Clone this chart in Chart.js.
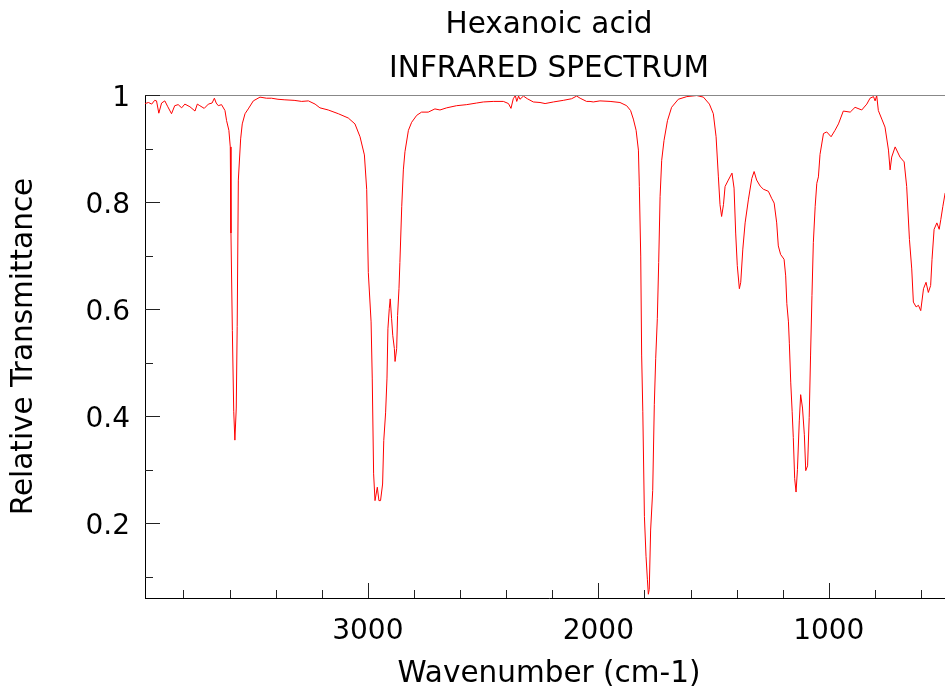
<!DOCTYPE html>
<html>
<head>
<meta charset="utf-8">
<script src="https://cdn.jsdelivr.net/npm/chart.js@4"></script>
<style>
  html, body { margin: 0; padding: 0; background: #fff; }
  #wrap { width: 945px; height: 689px; overflow: hidden; position: relative; }
  canvas { display: block; }
</style>
</head>
<body>
<div id="wrap"><canvas id="c" width="953" height="689" style="width:953px;height:689px"></canvas></div>
<script>
const chartTitle = ["Hexanoic acid", "INFRARED SPECTRUM"];
const xAxisTitle = "Wavenumber (cm-1)";
const yAxisTitle = "Relative Transmittance";

const xTickLabels = [3000, 2000, 1000];
const xMinorTicks = [3800, 3600, 3400, 3200, 2800, 2600, 2400, 2200, 1800, 1600, 1400, 1200, 800, 600];
const yTickLabels = [0.2, 0.4, 0.6, 0.8, 1];
const yMinorTicks = [0.1, 0.3, 0.5, 0.7, 0.9];

const wavenumbers = [
  3967, 3952, 3938, 3925, 3917, 3907, 3895, 3881, 3868, 3852, 3838, 3823, 3808, 3794, 3772, 3750, 3740, 3729, 3710, 3692,
  3676, 3666, 3658, 3649, 3635, 3620, 3613, 3603, 3597, 3594, 3588, 3582, 3577, 3571, 3567, 3562, 3552, 3545, 3533, 3519,
  3497, 3468, 3440, 3418, 3390, 3360, 3320, 3287, 3258, 3229, 3208, 3172, 3128, 3085, 3056, 3034, 3015, 3005, 2998, 2986,
  2981, 2975, 2969, 2959, 2952, 2945, 2936, 2931, 2923, 2917, 2913, 2907, 2903, 2897, 2892, 2885, 2882, 2875, 2871, 2865,
  2861, 2853, 2846, 2839, 2824, 2810, 2788, 2767, 2738, 2709, 2687, 2658, 2615, 2571, 2528, 2499, 2456, 2412, 2390, 2379,
  2369, 2360, 2354, 2346, 2340, 2325, 2308, 2282, 2253, 2231, 2195, 2152, 2116, 2094, 2079, 2051, 2036, 2022, 1993, 1949,
  1906, 1877, 1860, 1848, 1836, 1826, 1822, 1816, 1812, 1807, 1800, 1793, 1787, 1783, 1779, 1773, 1764, 1757, 1751, 1744,
  1738, 1732, 1725, 1715, 1700, 1682, 1653, 1616, 1573, 1544, 1518, 1501, 1489, 1479, 1472, 1465, 1457, 1450, 1436, 1420,
  1411, 1404, 1397, 1388, 1382, 1373, 1363, 1349, 1334, 1324, 1313, 1298, 1284, 1262, 1248, 1237, 1226, 1219, 1209, 1194,
  1187, 1182, 1175, 1171, 1165, 1159, 1154, 1148, 1142, 1136, 1128, 1122, 1114, 1106, 1100, 1092, 1085, 1079, 1073, 1067,
  1059, 1052, 1045, 1038, 1023, 1009, 990, 973, 958, 937, 907, 886, 857, 835, 821, 806, 799, 792, 785, 770,
  756, 741, 734, 727, 712, 691, 673, 662, 650, 640, 633, 621, 611, 601, 589, 578, 568, 558, 552, 543,
  531, 521, 514, 505, 495
];
const transmittance = [
  0.984, 0.986, 0.983, 0.990, 0.989, 0.966, 0.985, 0.989, 0.978, 0.965, 0.980, 0.982, 0.976, 0.983, 0.978, 0.970, 0.983, 0.980, 0.975, 0.983,
  0.985, 0.994, 0.985, 0.980, 0.982, 0.971, 0.952, 0.934, 0.903, 0.742, 0.560, 0.409, 0.355, 0.415, 0.567, 0.841, 0.918, 0.946, 0.965, 0.974,
  0.989, 0.996, 0.994, 0.994, 0.992, 0.991, 0.990, 0.988, 0.989, 0.983, 0.976, 0.972, 0.965, 0.957, 0.946, 0.922, 0.888, 0.823, 0.668, 0.576,
  0.471, 0.292, 0.242, 0.267, 0.242, 0.242, 0.273, 0.354, 0.406, 0.471, 0.563, 0.601, 0.619, 0.582, 0.551, 0.526, 0.502, 0.526, 0.588, 0.638,
  0.687, 0.792, 0.860, 0.894, 0.934, 0.949, 0.962, 0.968, 0.968, 0.974, 0.972, 0.976, 0.980, 0.982, 0.985, 0.987, 0.988, 0.988, 0.984, 0.975,
  0.993, 0.999, 0.988, 0.998, 0.992, 0.998, 0.993, 0.987, 0.986, 0.984, 0.987, 0.990, 0.993, 0.998, 0.994, 0.988, 0.988, 0.987, 0.989, 0.988,
  0.986, 0.980, 0.971, 0.955, 0.934, 0.897, 0.829, 0.699, 0.514, 0.409, 0.212, 0.138, 0.094, 0.067, 0.076, 0.187, 0.261, 0.422, 0.508, 0.582,
  0.687, 0.810, 0.878, 0.915, 0.952, 0.977, 0.992, 0.997, 0.999, 0.996, 0.983, 0.965, 0.922, 0.847, 0.795, 0.773, 0.795, 0.829, 0.841, 0.854,
  0.826, 0.742, 0.681, 0.638, 0.650, 0.712, 0.761, 0.804, 0.844, 0.857, 0.841, 0.830, 0.824, 0.820, 0.807, 0.798, 0.761, 0.718, 0.702, 0.693,
  0.662, 0.610, 0.576, 0.535, 0.462, 0.409, 0.360, 0.283, 0.258, 0.300, 0.391, 0.440, 0.415, 0.365, 0.298, 0.307, 0.397, 0.514, 0.625, 0.724,
  0.792, 0.835, 0.847, 0.889, 0.928, 0.931, 0.922, 0.934, 0.946, 0.970, 0.968, 0.977, 0.972, 0.983, 0.994, 0.997, 0.989, 0.999, 0.971, 0.955,
  0.940, 0.897, 0.860, 0.884, 0.903, 0.884, 0.875, 0.829, 0.730, 0.675, 0.613, 0.604, 0.607, 0.597, 0.638, 0.650, 0.631, 0.644, 0.693, 0.749,
  0.761, 0.749, 0.767, 0.792, 0.817
];

const points = wavenumbers.map((w, i) => ({ x: w, y: transmittance[i] }));

Chart.defaults.font.family = "'DejaVu Sans', sans-serif";
Chart.defaults.color = '#000';

const innerTicks = {
  id: 'innerTicks',
  afterDatasetsDraw(chart) {
    const { ctx, chartArea: a, scales: { x, y } } = chart;
    ctx.save();
    ctx.strokeStyle = '#888';
    ctx.lineWidth = 1;
    ctx.beginPath();
    ctx.moveTo(a.left, a.top + 0.5);
    ctx.lineTo(a.right, a.top + 0.5);
    ctx.stroke();
    ctx.strokeStyle = '#222';
    ctx.beginPath();
    xTickLabels.forEach(v => { const p = Math.round(x.getPixelForValue(v)) + 0.5; ctx.moveTo(p, a.bottom); ctx.lineTo(p, a.bottom - 15); });
    xMinorTicks.forEach(v => { const p = Math.round(x.getPixelForValue(v)) + 0.5; ctx.moveTo(p, a.bottom); ctx.lineTo(p, a.bottom - 8); });
    yTickLabels.forEach(v => { const p = Math.round(y.getPixelForValue(v)) + 0.5; ctx.moveTo(a.left, p); ctx.lineTo(a.left + 15, p); });
    yMinorTicks.forEach(v => { const p = Math.round(y.getPixelForValue(v)) + 0.5; ctx.moveTo(a.left, p); ctx.lineTo(a.left + 8, p); });
    ctx.stroke();
    ctx.restore();
  }
};

new Chart(document.getElementById('c'), {
  type: 'line',
  data: {
    datasets: [{
      data: points,
      borderColor: 'rgb(255,0,0)',
      borderWidth: 1,
      pointRadius: 0,
      tension: 0,
      fill: false
    }]
  },
  options: {
    responsive: false,
    animation: false,
    layout: { padding: { left: 0, right: 0, top: 0, bottom: 0 } },
    plugins: {
      legend: { display: false },
      tooltip: { enabled: false },
      title: {
        display: true,
        text: chartTitle,
        fullSize: false,
        color: '#000',
        font: { size: 29.5, weight: 'normal', lineHeight: 44 / 29.5 },
        padding: { top: 3, bottom: 4 }
      }
    },
    scales: {
      x: {
        type: 'linear',
        reverse: true,
        min: 461,
        max: 3967,
        grid: { display: false, drawTicks: false, tickLength: 0 },
        border: { display: true, color: '#000', width: 1 },
        afterBuildTicks: s => { s.ticks = xTickLabels.map(v => ({ value: v })); },
        afterFit: s => { s.height = 91; },
        ticks: {
          autoSkip: false,
          maxRotation: 0,
          padding: 17,
          color: '#000',
          font: { size: 28 },
          callback: v => String(v)
        },
        title: {
          display: true,
          text: xAxisTitle,
          color: '#000',
          font: { size: 29.5, lineHeight: 1 },
          padding: { top: 0, bottom: 0 }
        }
      },
      y: {
        type: 'linear',
        min: 0.06,
        max: 1.0,
        grid: { display: false, drawTicks: false, tickLength: 0 },
        border: { display: true, color: '#000', width: 1 },
        afterBuildTicks: s => { s.ticks = yTickLabels.map(v => ({ value: v })); },
        afterFit: s => { s.width = 145; },
        ticks: {
          autoSkip: false,
          padding: 15,
          labelOffset: 4,
          color: '#000',
          font: { size: 28 },
          callback: v => String(v)
        },
        title: {
          display: true,
          text: yAxisTitle,
          color: '#000',
          font: { size: 29.5, lineHeight: 1.2 },
          padding: { top: 7, bottom: 0 }
        }
      }
    }
  },
  plugins: [innerTicks]
});
</script>
</body>
</html>
